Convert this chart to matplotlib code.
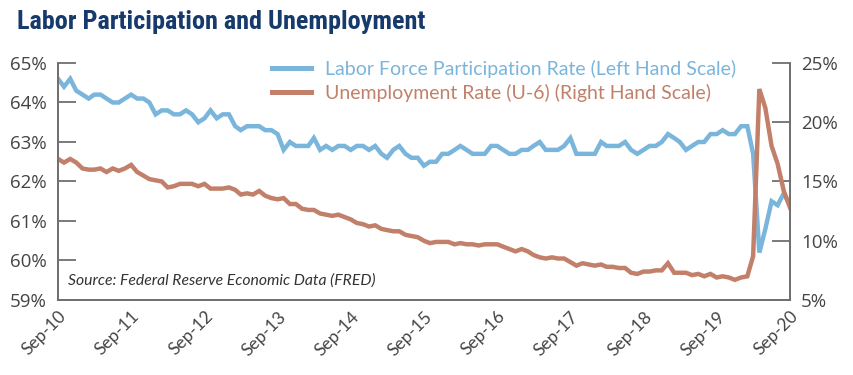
import matplotlib
matplotlib.use("Agg")
import matplotlib.pyplot as plt
import matplotlib.font_manager as fm
from matplotlib.transforms import ScaledTranslation
import pandas as pd
from matplotlib.lines import Line2D

dates = pd.date_range("2010-09-01", "2020-09-01", freq="MS")

lfpr = [64.6, 64.4, 64.6, 64.3,
        64.2, 64.1, 64.2, 64.2, 64.1, 64.0, 64.0, 64.1, 64.2, 64.1, 64.1, 64.0,
        63.7, 63.8, 63.8, 63.7, 63.7, 63.8, 63.7, 63.5, 63.6, 63.8, 63.6, 63.7,
        63.7, 63.4, 63.3, 63.4, 63.4, 63.4, 63.3, 63.3, 63.2, 62.8, 63.0, 62.9,
        62.9, 62.9, 63.1, 62.8, 62.9, 62.8, 62.9, 62.9, 62.8, 62.9, 62.9, 62.8,
        62.9, 62.7, 62.6, 62.8, 62.9, 62.7, 62.6, 62.6, 62.4, 62.5, 62.5, 62.7,
        62.7, 62.8, 62.9, 62.8, 62.7, 62.7, 62.7, 62.9, 62.9, 62.8, 62.7, 62.7,
        62.8, 62.8, 62.9, 63.0, 62.8, 62.8, 62.8, 62.9, 63.1, 62.7, 62.7, 62.7,
        62.7, 63.0, 62.9, 62.9, 62.9, 63.0, 62.8, 62.7, 62.8, 62.9, 62.9, 63.0,
        63.2, 63.1, 63.0, 62.8, 62.9, 63.0, 63.0, 63.2, 63.2, 63.3, 63.2, 63.2,
        63.4, 63.4, 62.7, 60.2, 60.8, 61.5, 61.4, 61.7, 61.4]

u6 = [16.9, 16.6, 16.9, 16.6,
      16.1, 16.0, 16.0, 16.1, 15.8, 16.1, 15.9, 16.1, 16.4, 15.8, 15.5, 15.2,
      15.1, 15.0, 14.5, 14.6, 14.8, 14.8, 14.8, 14.6, 14.8, 14.4, 14.4, 14.4,
      14.5, 14.3, 13.9, 14.0, 13.9, 14.2, 13.8, 13.6, 13.5, 13.6, 13.1, 13.1,
      12.7, 12.6, 12.6, 12.3, 12.2, 12.1, 12.2, 12.0, 11.8, 11.5, 11.4, 11.2,
      11.3, 11.0, 10.9, 10.8, 10.8, 10.5, 10.4, 10.3, 10.0, 9.8, 9.9, 9.9,
      9.9, 9.7, 9.8, 9.7, 9.7, 9.6, 9.7, 9.7, 9.7, 9.5, 9.3, 9.1,
      9.3, 9.1, 8.8, 8.6, 8.5, 8.6, 8.5, 8.5, 8.2, 7.9, 8.1, 8.0,
      7.9, 8.0, 7.8, 7.8, 7.7, 7.7, 7.3, 7.2, 7.4, 7.4, 7.5, 7.5,
      8.1, 7.3, 7.3, 7.3, 7.1, 7.2, 7.0, 7.2, 6.9, 7.0, 6.9, 6.7,
      6.9, 7.0, 8.7, 22.8, 21.2, 18.0, 16.5, 14.2, 12.8]

left_ticks = [59, 60, 61, 62, 63, 64, 65]
right_ticks = [5, 10, 15, 20, 25]
tick_dates = pd.date_range("2010-09-01", "2020-09-01", freq="12MS")

title = "Labor Participation and Unemployment"
label_lfpr = "Labor Force Participation Rate (Left Hand Scale)"
label_u6 = "Unemployment Rate (U-6) (Right Hand Scale)"
source = "Source: Federal Reserve Economic Data (FRED)"

blue = "#7ab5dc"
brown = "#c2806a"
grey = "#444444"
spine_c = "#707070"
font = ["Lato", "DejaVu Sans"]

plt.rcParams["font.family"] = font


def condensed_bold():
    prefs = ["Roboto Condensed", "Liberation Sans Narrow", "Open Sans Condensed",
             "Noto Sans", "DejaVu Sans", "Open Sans"]
    cands = []
    for f in fm.fontManager.ttflist:
        st = str(f.stretch).lower()
        narrow = ("narrow" in f.name.lower() or "condensed" in f.name.lower()
                  or st in ("condensed", "semi-condensed", "extra-condensed",
                            "ultra-condensed") or (st.isdigit() and int(st) < 100)
                  or "condensed" in f.fname.lower() or "narrow" in f.fname.lower())
        try:
            w = int(f.weight)
        except Exception:
            w = {"bold": 700, "semibold": 600, "demibold": 600, "heavy": 800,
                 "black": 900, "extra bold": 800}.get(str(f.weight).lower(), 400)
        if narrow and 600 <= w <= 800 and f.style == "normal":
            rank = prefs.index(f.name) if f.name in prefs else len(prefs)
            cands.append((rank, abs(w - 700), f.fname))
    if cands:
        cands.sort()
        return fm.FontProperties(fname=cands[0][2])
    return fm.FontProperties(family="DejaVu Sans", weight="bold")


fig = plt.figure(figsize=(8.54, 3.75), dpi=100)
ax = fig.add_axes([58 / 854, 75 / 375, (790 - 58) / 854, (300 - 63) / 375])
ax2 = ax.twinx()

ax.plot(dates, lfpr, color=blue, lw=3.2, solid_joinstyle="miter")
ax2.plot(dates, u6, color=brown, lw=3.2, solid_joinstyle="miter")

ax.set_xlim(dates[0], dates[-1])
ax.set_ylim(59, 65)
ax2.set_ylim(5, 25)

ax.set_yticks(left_ticks)
ax.set_yticklabels([f"{v}%" for v in left_ticks])
ax2.set_yticks(right_ticks)
ax2.set_yticklabels([f"{v}%" for v in right_ticks])

ax.set_xticks(tick_dates)
ax.set_xticklabels([d.strftime("%b-%y") for d in tick_dates], rotation=45,
                   ha="right", va="top", rotation_mode="anchor")
off = ScaledTranslation(8 / 100, -7 / 100, fig.dpi_scale_trans)
for lab in ax.get_xticklabels():
    lab.set_transform(lab.get_transform() + off)

for a in (ax, ax2):
    a.spines["top"].set_visible(False)
    for s in ("left", "right", "bottom"):
        a.spines[s].set_color(spine_c)
        a.spines[s].set_linewidth(1.3)

ax.tick_params(axis="y", direction="in", length=13, width=1.3, color=spine_c,
               labelsize=13.5, labelcolor=grey, pad=8)
ax2.tick_params(axis="y", direction="in", length=13, width=1.3, color=spine_c,
                labelsize=13.5, labelcolor=grey, pad=8)
for lab in ax.get_yticklabels() + ax2.get_yticklabels():
    lab.set_family(["Open Sans", "DejaVu Sans"])
ax.tick_params(axis="x", length=0, labelsize=12.5, labelcolor=grey, pad=6)

tfp = condensed_bold()
tfp.set_size(22)
ttl = fig.text(17 / 854, 1 - 22 / 375, title, fontproperties=tfp,
               color="#163a6b", va="center", ha="left")
fig.canvas.draw()
w = ttl.get_window_extent().width
target = 410.0
if w > target:
    tfp.set_size(22 * target / w)
    ttl.set_fontproperties(tfp)

handles = [Line2D([], [], color=blue, lw=3.6), Line2D([], [], color=brown, lw=3.6)]
leg = fig.legend(handles, [label_lfpr, label_u6], loc="upper left",
                 bbox_to_anchor=(272 / 854, 1 - 60 / 375), frameon=False,
                 fontsize=14, handlelength=2.0, handletextpad=0.75,
                 labelspacing=0.3, borderaxespad=0, borderpad=0)
for t, c in zip(leg.get_texts(), [blue, brown]):
    t.set_color(c)

ax.text(0.013, 0.083, source, transform=ax.transAxes, fontsize=11.3,
        style="italic", color="#333333", ha="left", va="center")

fig.savefig("out.png", dpi=100, facecolor="white")
